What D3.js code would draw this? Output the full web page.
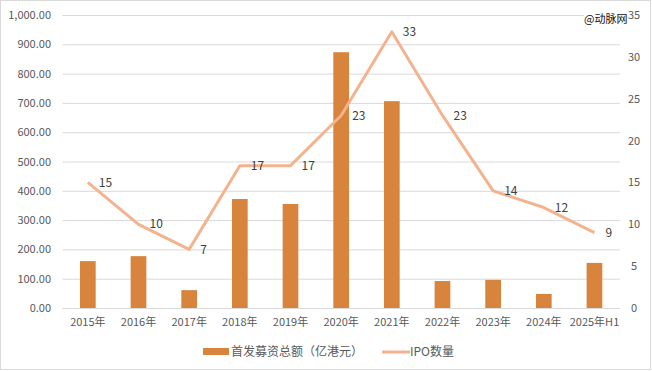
<!DOCTYPE html>
<html><head><meta charset="utf-8">
<script src="https://cdn.jsdelivr.net/npm/d3@7/dist/d3.min.js"></script>
<style>body{margin:0;background:#fff}svg{display:block}text{font-family:"Noto Sans CJK SC","Noto Sans",sans-serif}</style>
</head><body><svg id="c" width="652" height="371"></svg>
<script>
const categories = ["2015年","2016年","2017年","2018年","2019年","2020年","2021年","2022年","2023年","2024年","2025年H1"];
const amounts = [160,177,61,372,355,873,706,92,96,48,154];
const ipoCounts = [15,10,7,17,17,23,33,23,14,12,9];
const leftTicks = [0,100,200,300,400,500,600,700,800,900,1000];
const rightTicks = [0,5,10,15,20,25,30,35];
const seriesNames = ["首发募资总额（亿港元）","IPO数量"];

const svg = d3.select("#c");
const L=62.5,R=619.8,T=15,B=308;
const barColor="#D8843D", lineColor="#F4B38F";

svg.append("rect").attr("x",0.5).attr("y",0.5).attr("width",650).attr("height",369).attr("fill","#fff").attr("stroke","#D9D9D9");

const x = d3.scaleBand().domain(categories).range([L,R]).paddingInner(0.69).paddingOuter(0.345);
const xc = d=>x(d)+x.bandwidth()/2;
const y = d3.scaleLinear().domain([0,1000]).range([B,T]);
const y2 = d3.scaleLinear().domain([0,35]).range([B,T]);

const ga = svg.append("g").attr("transform",`translate(${L},0)`)
 .call(d3.axisLeft(y).tickValues(leftTicks).tickSize(-(R-L)).tickFormat(""));
ga.select(".domain").remove();
ga.selectAll("line").attr("stroke","#D9D9D9");

const la = svg.append("g").attr("transform",`translate(51,0)`)
 .call(d3.axisLeft(y).tickValues(leftTicks).tickSize(0).tickPadding(0).tickFormat(d3.format(",.2f")));
la.select(".domain").remove();
la.selectAll("text").attr("fill","#595959").style("font-size","11px");

const ra = svg.append("g").attr("transform",`translate(634,0)`)
 .call(d3.axisRight(y2).tickValues(rightTicks).tickSize(0).tickPadding(0));
ra.select(".domain").remove();
ra.selectAll("text").attr("fill","#595959").attr("text-anchor","middle").style("font-size","11px");

const xa = svg.append("g").attr("transform",`translate(0,${B})`)
 .call(d3.axisBottom(x).tickSize(0).tickPadding(10));
xa.select(".domain").attr("stroke","#D9D9D9");
xa.selectAll("text").attr("fill","#595959").style("font-size","11px");

svg.append("g").selectAll("rect").data(amounts).join("rect")
 .attr("x",(d,i)=>x(categories[i])).attr("width",x.bandwidth())
 .attr("y",d=>y(d)).attr("height",d=>B-y(d)).attr("fill",barColor);

const line = d3.line().x((d,i)=>xc(categories[i])).y(d=>y2(d));
svg.append("path").datum(ipoCounts).attr("d",line).attr("fill","none")
 .attr("stroke",lineColor).attr("stroke-width",3).attr("stroke-linejoin","round");

svg.append("g").selectAll("text").data(ipoCounts).join("text")
 .attr("x",(d,i)=>xc(categories[i])+11).attr("y",d=>y2(d)).attr("dy","0.35em")
 .attr("fill","#404040").style("font-size","12px").text(d=>d);

const lg = svg.append("g");
lg.append("rect").attr("x",203).attr("y",348).attr("width",26).attr("height",7).attr("fill",barColor);
lg.append("text").attr("x",231).attr("y",352).attr("dy","0.35em").attr("fill","#595959").style("font-size","12px").text(seriesNames[0]);
lg.append("line").attr("x1",382).attr("x2",410).attr("y1",352).attr("y2",352).attr("stroke",lineColor).attr("stroke-width",3);
lg.append("text").attr("x",410).attr("y",352).attr("dy","0.35em").attr("fill","#595959").style("font-size","12px").text(seriesNames[1]);

svg.append("rect").attr("x",584).attr("y",11).attr("width",40).attr("height",16).attr("fill","#fff");
svg.append("text").attr("x",584).attr("y",19).attr("dy","0.35em").attr("fill","#111").style("font-size","11px").text("@动脉网");
</script></body></html>
